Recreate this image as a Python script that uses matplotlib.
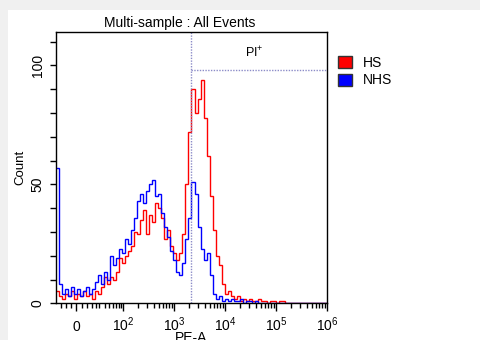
import numpy as np
import matplotlib
matplotlib.use("Agg")
import matplotlib.pyplot as plt
from matplotlib.patches import Rectangle, Patch

plt.rcParams['font.family'] = ['Liberation Sans', 'DejaVu Sans']
plt.rcParams['mathtext.fontset'] = 'custom'
plt.rcParams['mathtext.rm'] = 'Liberation Sans'
plt.rcParams['mathtext.it'] = 'Liberation Sans:italic'
plt.rcParams['mathtext.default'] = 'regular'

# ---- data ----
title = "Multi-sample : All Events"
series_names = ["HS", "NHS"]
series_colors = ["#ff0000", "#0000ff"]

# histogram counts per display bin (90 equal bins on the biexponential axis)
hs_counts = [5, 3, 2, 4, 3, 5, 2, 4, 3, 5,
             3, 4, 2, 5, 4, 7, 11, 8, 11, 10,
             13, 19, 17, 20, 22, 24, 30, 29, 35, 39,
             29, 37, 34, 42, 40, 36, 27, 31, 24, 21,
             18, 21, 29, 50, 72, 90, 80, 86, 94, 78,
             62, 45, 31, 20, 16, 8, 4, 5, 3, 2,
             3, 1, 2, 1, 2, 1, 1, 2, 1, 1,
             0, 1, 1, 0, 1, 1, 0, 0, 0, 0,
             0, 0, 0, 0, 0, 0, 0, 0, 0, 0]
nhs_counts = [57, 8, 4, 6, 3, 7, 4, 6, 3, 5,
              7, 4, 6, 9, 12, 8, 13, 10, 20, 16,
              19, 23, 21, 27, 25, 31, 36, 43, 46, 42,
              47, 50, 52, 45, 46, 38, 32, 28, 22, 18,
              13, 12, 17, 27, 36, 51, 46, 32, 23, 18,
              21, 12, 4, 2, 3, 1, 2, 1, 2, 1,
              1, 2, 0, 1, 1, 0, 1, 0, 0, 0,
              0, 0, 0, 0, 0, 0, 0, 0, 0, 0,
              0, 0, 0, 0, 0, 0, 0, 0, 0, 0]

x_min, x_max = -25.6, 1e6
y_max = 114
gate_x = 2150
gate_y = 98
gate_label = r"PI$^{+}$"

x_major = [0, 1e2, 1e3, 1e4, 1e5, 1e6]
x_major_labels = ["$0$", r"$10^2$", r"$10^3$", r"$10^4$", r"$10^5$", r"$10^6$"]
x_minor_lin = [-18, -12, -6, 6, 12, 18, 24, 30, 40, 50, 60, 70, 80, 90]
y_major = [0, 50, 100]
y_minor = [10, 20, 30, 40, 60, 70, 80, 90, 110]

# ---- biexponential-like scale ----
W = 24.3
fwd = lambda x: np.arcsinh(np.asarray(x, dtype=float) / W)
inv = lambda u: W * np.sinh(np.asarray(u, dtype=float))

nb = len(hs_counts)
u_edges = np.linspace(fwd(x_min), fwd(x_max), nb + 1)
edges = inv(u_edges)

fig = plt.figure(figsize=(4.81, 3.40), dpi=100, facecolor="#f0f0f0")
fig.patches.append(Rectangle((8 / 481, 0), 1, (340 - 10) / 340,
                             transform=fig.transFigure, facecolor="white",
                             edgecolor="none", zorder=-10))

ax = fig.add_axes([56 / 481, (340 - 303.3) / 340, 271 / 481, 271.3 / 340])
ax.set_xscale("function", functions=(fwd, inv))

ax.stairs(hs_counts, edges, color=series_colors[0], lw=1.0, baseline=None)
ax.stairs(nhs_counts, edges, color=series_colors[1], lw=1.0, baseline=None)

ax.set_xlim(x_min, x_max)
ax.set_ylim(0, y_max)

# gate
gcol = "#8c8cc8"
ax.axvline(gate_x, color=gcol, lw=1.0, ls=(0, (1, 1)))
ax.plot([gate_x, x_max], [gate_y, gate_y], color=gcol, lw=1.0, ls=(0, (1, 1)),
        clip_on=False)
ax.text(0.731, 0.922, gate_label, transform=ax.transAxes,
        ha="center", va="center", fontsize=9)

# ticks
minor_x = list(x_minor_lin)
for d in range(2, 6):
    minor_x += [m * 10 ** d for m in range(2, 10)]
ax.set_xticks(x_major)
ax.set_xticklabels(x_major_labels)
for lbl in ax.get_xticklabels():
    lbl.set_va("baseline")
ax.set_xticks(minor_x, minor=True)
ax.set_yticks(y_major)
ax.set_yticklabels([str(v) for v in y_major], rotation=90, va="center")
ax.set_yticks(y_minor, minor=True)

ax.tick_params(axis="x", which="major", length=6, width=1, labelsize=10, pad=14)
ax.tick_params(axis="x", which="minor", length=3.5, width=1)
ax.tick_params(axis="y", which="both", length=4, width=1, labelsize=10, pad=4)
for s in ax.spines.values():
    s.set_linewidth(1.0)

ax.set_ylabel("Count", fontsize=9.5, labelpad=3)
ax.set_xlabel("PE-A", fontsize=10)
ax.xaxis.set_label_coords(0.5, -0.102)
ax.xaxis.label.set_va("top")

fig.text(179.5 / 481, (340 - 26.7) / 340, title, ha="center", va="baseline",
         fontsize=10)

handles = [Patch(facecolor=c, edgecolor="#333333", lw=1.0) for c in series_colors]
fig.legend(handles, series_names, loc="upper left",
           bbox_to_anchor=(338 / 481, (340 - 56) / 340), frameon=False,
           fontsize=10, handlelength=1.0, handleheight=1.0,
           handletextpad=0.8, labelspacing=0.25, borderpad=0, borderaxespad=0)

fig.savefig("out.png", dpi=100, facecolor=fig.get_facecolor())
